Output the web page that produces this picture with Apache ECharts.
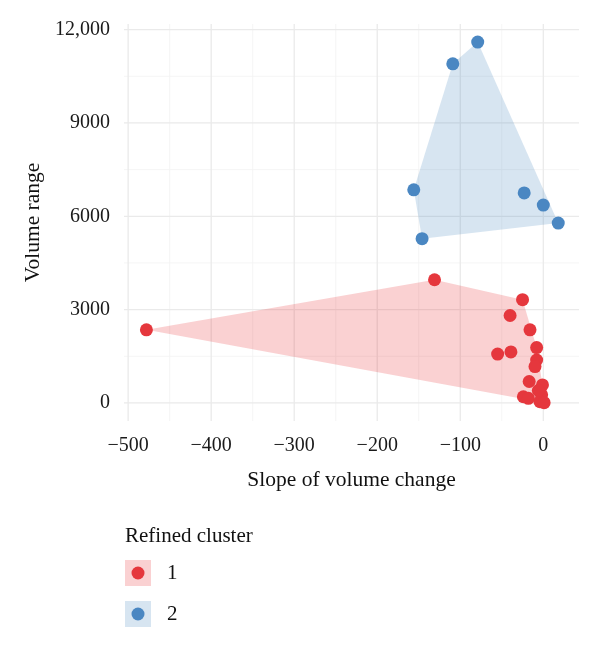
<!DOCTYPE html>
<html><head><meta charset="utf-8">
<script src="https://cdn.jsdelivr.net/npm/echarts@6/dist/echarts.min.js"></script>
<style>html,body{margin:0;padding:0;background:#fff}#c{width:600px;height:649px}</style>
</head><body><div id="c"></div>
<script>
// ---- data ----
const clusterNames = ['1', '2'];
const cluster1X = [-478, -131, -25, -40, -16, -55, -39, -8, -8, -10, -17, -1, -24, -18, -2, -4, 1, -6];
const cluster1Y = [2350, 3960, 3320, 2810, 2350, 1570, 1640, 1780, 1380, 1170, 690, 580, 200, 150, 260, 40, 10, 400];
const cluster2X = [-79, -109, -156, -146, -23, 0, 18];
const cluster2Y = [11600, 10900, 6850, 5280, 6750, 6360, 5780];
const xTicks = [-500, -400, -300, -200, -100, 0];
const xMinorTicks = [-450, -350, -250, -150, -50];
const yTicks = [0, 3000, 6000, 9000, 12000];
const yMinorTicks = [1500, 4500, 7500, 10500];

const X_MIN = -505, X_MAX = 43, Y_MIN = -580, Y_MAX = 12180;
const FONT = 'Liberation Serif';
const pointColors = ['#E5373D', '#4A87C2'];
const hullColors = ['rgba(228,26,28,0.2)', 'rgba(55,126,184,0.2)'];

function zip(xs, ys) { return xs.map((x, i) => [x, ys[i]]); }
function hull(pts) {
  const p = pts.slice().sort((a, b) => a[0] - b[0] || a[1] - b[1]);
  const cross = (o, a, b) => (a[0]-o[0])*(b[1]-o[1]) - (a[1]-o[1])*(b[0]-o[0]);
  const lower = [], upper = [];
  for (const q of p) { while (lower.length >= 2 && cross(lower[lower.length-2], lower[lower.length-1], q) <= 0) lower.pop(); lower.push(q); }
  for (let i = p.length - 1; i >= 0; i--) { const q = p[i]; while (upper.length >= 2 && cross(upper[upper.length-2], upper[upper.length-1], q) <= 0) upper.pop(); upper.push(q); }
  upper.pop(); lower.pop();
  return lower.concat(upper);
}
const clusters = [zip(cluster1X, cluster1Y), zip(cluster2X, cluster2Y)];

function gridSeries(values, dim, color, width) {
  return {
    type: 'custom', silent: true, z: 0, legendHoverLink: false,
    data: values.map(v => dim === 'x' ? [v, 0] : [0, v]),
    renderItem: function (params, api) {
      const v = api.value(dim === 'x' ? 0 : 1);
      const a = dim === 'x' ? api.coord([v, Y_MIN]) : api.coord([X_MIN, v]);
      const b = dim === 'x' ? api.coord([v, Y_MAX]) : api.coord([X_MAX, v]);
      return { type: 'line', shape: { x1: a[0], y1: a[1], x2: b[0], y2: b[1] }, style: { stroke: color, lineWidth: width } };
    }
  };
}

const series = [
  gridSeries(xMinorTicks, 'x', '#F2F2F2', 0.8),
  gridSeries(yMinorTicks, 'y', '#F2F2F2', 0.8),
  gridSeries(xTicks, 'x', '#EAEAEA', 1.3),
  gridSeries(yTicks, 'y', '#EAEAEA', 1.3)
];
clusters.forEach((pts, k) => {
  const h = hull(pts);
  series.push({
    type: 'custom', name: clusterNames[k], z: 1, silent: true,
    itemStyle: { color: hullColors[k] },
    data: h,
    renderItem: function (params, api) {
      if (params.dataIndex !== 0) return null;
      return { type: 'polygon', shape: { points: h.map(p => api.coord(p)) }, style: { fill: hullColors[k] } };
    }
  });
});
clusters.forEach((pts, k) => {
  series.push({
    type: 'scatter', name: clusterNames[k], z: 2, data: pts, symbolSize: 13,
    itemStyle: { color: pointColors[k], opacity: 1 }
  });
});

const chart = echarts.init(document.getElementById('c'), null, { renderer: 'canvas' });
chart.setOption({
  animation: false,
  backgroundColor: '#fff',
  textStyle: { fontFamily: FONT },
  grid: { left: 124, right: 21, top: 24, bottom: 228, containLabel: false },
  title: {
    text: 'Refined cluster', left: 120, top: 521,
    textStyle: { fontFamily: FONT, fontSize: 21, fontWeight: 'normal', color: '#111' }
  },
  legend: [
    {
      orient: 'vertical', left: 125, top: 560, itemWidth: 26, itemHeight: 26, itemGap: 15,
      selectedMode: false, padding: 0,
      data: clusterNames.map((n, k) => ({ name: n, icon: 'rect', itemStyle: { color: hullColors[k] } })),
      textStyle: { fontFamily: FONT, fontSize: 21, color: '#111', padding: [0, 0, 0, 11] }
    },
    {
      orient: 'vertical', left: 125, top: 560, itemWidth: 26, itemHeight: 13, itemGap: 28,
      selectedMode: false, padding: [6.5, 0, 0, 0],
      data: clusterNames.map((n, k) => ({ name: n, icon: 'circle', itemStyle: { color: pointColors[k] } })),
      formatter: function () { return ''; },
      textStyle: { fontSize: 1 }
    }
  ],
  xAxis: {
    type: 'value', min: X_MIN, max: X_MAX,
    name: 'Slope of volume change', nameLocation: 'middle', nameGap: 48,
    nameTextStyle: { fontFamily: FONT, fontSize: 21.5, color: '#111' },
    axisLine: { show: false }, axisTick: { show: false }, splitLine: { show: false },
    axisLabel: {
      customValues: xTicks, margin: 15, fontFamily: FONT, fontSize: 20, color: '#1a1a1a',
      formatter: v => String(v).replace('-', '\u2212')
    }
  },
  yAxis: {
    type: 'value', min: Y_MIN, max: Y_MAX,
    name: 'Volume range', nameLocation: 'middle', nameGap: 80,
    nameTextStyle: { fontFamily: FONT, fontSize: 21.5, color: '#111' },
    axisLine: { show: false }, axisTick: { show: false }, splitLine: { show: false },
    axisLabel: {
      customValues: yTicks, margin: 14, fontFamily: FONT, fontSize: 20, color: '#1a1a1a',
      formatter: v => (v >= 10000 ? v.toLocaleString('en-US') : String(v))
    }
  },
  series: series
});
</script></body></html>
